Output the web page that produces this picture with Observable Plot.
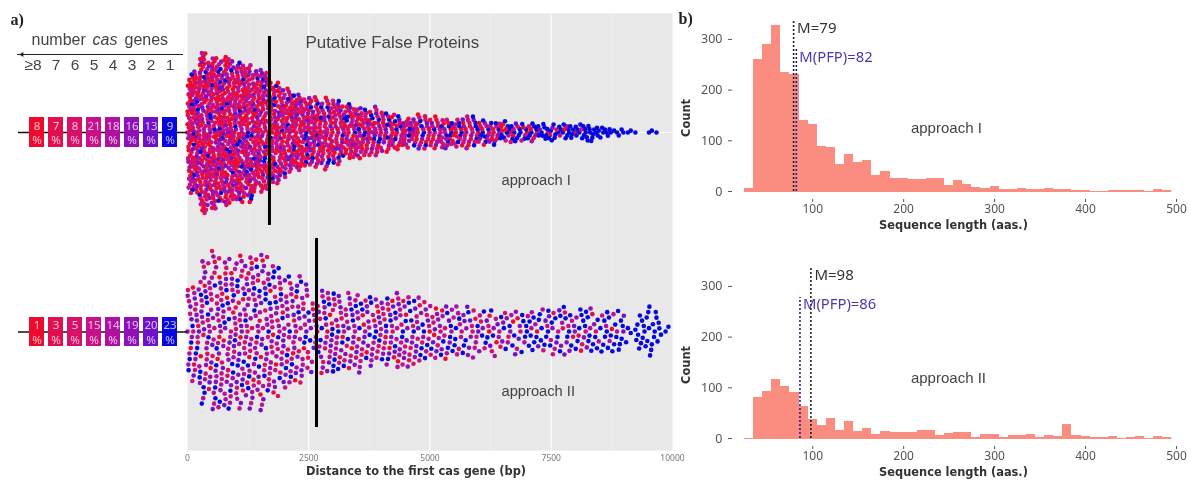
<!DOCTYPE html>
<html><head><meta charset="utf-8">
<script src="https://cdn.jsdelivr.net/npm/d3@7"></script>
<script src="https://cdn.jsdelivr.net/npm/@observablehq/plot@0.6"></script>
<style>
html,body{margin:0;padding:0;background:#fff}
#c{position:relative;width:1191px;height:480px;overflow:hidden;filter:blur(0.45px)}
#c svg{position:absolute;left:0;top:0;background:transparent}
</style></head><body><div id="c"></div>
<script>
// ---------- data ----------
const casLabels = ["≥8","7","6","5","4","3","2","1"];
const casColors = ["#ee0a2c","#e20f4e","#d81068","#c8108a","#b010a0","#9010b8","#7010c8","#0808dc"];
const pctI  = [8,7,8,21,18,16,13,9];
const pctII = [1,3,5,15,14,19,20,23];
const dotMixI  = [22,15,15,18,12,8,6,4];   // share of each colour among the dots, as seen
const dotMixII = [5,6,10,18,16,18,14,13];

const binWidth = 250;                    // bp per counted bin of the swarms
const countsI = [115,135,130,125,118,108,95,80,70,62,56,52,48,44,40,35,30,26,24,23,23,23,23,21,19,18,16,14,14,12,11,12,12,12,8,5,3,0,3,0];
const blueI   = [.03,.03,.03,.03,.03,.03,.03,.03,.05,.05,.05,.07,.07,.08,.08,.1,.1,.12,.15,.15,.18,.2,.2,.2,.25,.3,.35,.45,.55,.65,.75,.85,.95,1,1,1,1,1,1,1];
const countsII = [36,48,52,50,50,50,47,42,37,32,20,30,28,27,25,24,26,27,24,21,19,18,17,16,14,13,13,14,14,14,15,15,15,14,14,14,4,13,14,3];
const blueII   = [.08,.05,.05,.05,.05,.05,.05,.05,.05,.05,.07,.07,.07,.07,.07,.08,.1,.1,.12,.12,.12,.15,.15,.18,.22,.25,.28,.3,.35,.38,.4,.45,.5,.5,.55,.65,.9,.95,1,1];
const pfpLineI = 1690, pfpLineII = 2660;

const lengths = [30,40,50,60,70,80,90,100,110,120,130,140,150,160,170,180,190,200,210,220,230,240,250,260,270,280,290,300,310,320,330,340,350,360,370,380,390,400,410,420,430,440,450,460,470,480,490];
const histI  = [5,260,289,328,235,231,140,132,88,86,53,72,58,61,31,40,25,26,23,23,25,25,12,22,14,7,5,9,3,4,5,3,3,5,3,3,1,2,0,0,2,1,1,1,0,3,1];
const histII = [0,80,92,117,102,90,63,38,25,40,16,33,14,20,8,13,11,12,11,16,15,5,9,11,11,1,7,8,1,5,5,7,1,5,3,28,5,4,2,1,3,0.5,2,3,0.5,3,1];

// ---------- expand the counted bins into points for the library's dodge ----------
const PHI = 0.6180339887, PSI = 0.7548776662;
const frac = v => v - Math.floor(v);
function points(counts, blue, mix) {
  const total = d3.sum(mix), cum = d3.cumsum(mix).map(v => v / total), out = [];
  let n = 0;
  const rows = [];
  counts.forEach((c, b) => { for (let i = 0; i < c; i++) rows.push([b, i, c]); });
  rows.sort((p, q) => p[0] - q[0] || frac(p[1] * PSI) - frac(q[1] * PSI));
  for (const [b, i, c] of rows) {
    n++;
    const u = frac(n * PHI), w = frac(n * PSI);
    let k = cum.findIndex(v => u <= v); if (k < 0) k = 7;
    if (w < blue[b]) k = 7;
    out.push({x: (b + frac(i * PHI + b * 0.37)) * binWidth, fill: casColors[k]});
  }
  return out;
}
const table = (ys) => lengths.map((len, i) => ({len, count: ys[i]}));

// ---------- shared styles ----------
const sans = "Liberation Sans", noto = "Noto Sans", bold = "DejaVu Sans";
const W = 1191, H = 480, X = {domain: [0, 10000]};
const mount = p => document.getElementById("c").appendChild(p);

// ---------- panel a) background ----------
mount(Plot.plot({
  width: W, height: H, marginLeft: 187, marginRight: W - 672, marginTop: 13, marginBottom: H - 450,
  x: X, style: {background: "transparent"},
  marks: [
    Plot.frame({fill: "#e8e8e8", stroke: null}),
    Plot.ruleX([1250,3750,6250,8750], {stroke: "#efefef", strokeWidth: 0.8}),
    Plot.ruleX([2500,5000,7500], {stroke: "#fbfbfb", strokeWidth: 1.2}),
    Plot.axisX({ticks: [0,2500,5000,7500,10000], tickFormat: d => String(d), tickSize: 0, tickPadding: 4, label: null, fontSize: 8.5, color: "#777", fontFamily: noto}),
    Plot.text(["Distance to the first cas gene (bp)"], {frameAnchor: "bottom", dx: -14, dy: 24, fontFamily: bold, fontWeight: "bold", fontSize: 11.4, fill: "#333"}),
    Plot.text(["a)"], {frameAnchor: "top-left", lineAnchor: "middle", dx: -177, dy: 6, fontFamily: "Liberation Serif", fontWeight: "bold", fontSize: 16, fill: "#222", textAnchor: "start"})
  ]
}));

// ---------- swarms ----------
function swarm(top, bottom, counts, blue, mix, pad, rule, y1, y2, labels) {
  mount(Plot.plot({
    width: W, height: H, marginLeft: 187, marginRight: W - 672, marginTop: top, marginBottom: H - bottom,
    x: {...X, axis: null}, y: {domain: [(bottom - top) / 2, -(bottom - top) / 2], axis: null},
    style: {background: "transparent"},
    marks: [
      Plot.ruleY([0], {stroke: "#fbfbfb", strokeWidth: 1}),
      Plot.dot(points(counts, blue, mix), Plot.dodgeY({anchor: "middle", x: "x", r: 2.3, padding: pad, fill: "fill"})),
      Plot.ruleX([rule], {y1, y2, stroke: "#000", strokeWidth: 3}),
      ...labels.map(l => Plot.text([l.text], {x: l.x, y: l.y, text: d => d, textAnchor: "start", fontFamily: sans, fontSize: l.size, fill: "#444"}))
    ]
  }));
}
swarm(13, 251, countsI, blueI, dotMixI, -1.2, pfpLineI, -96, 93,
  [{text: "Putative False Proteins", x: 2433, y: -90, size: 16.9}, {text: "approach I", x: 6474, y: 48, size: 14.7}]);
swarm(212, 450, countsII, blueII, dotMixII, 1, pfpLineII, -93, 96,
  [{text: "approach II", x: 6474, y: 60, size: 14.7}]);

// ---------- cas-gene tag rows ----------
function tags(top, bottom, pct, header) {
  const h = bottom - top;
  mount(Plot.plot({
    width: W, height: H, marginLeft: 25.7, marginRight: W - 180, marginTop: top, marginBottom: H - bottom,
    x: {domain: casLabels, paddingInner: 0.2, paddingOuter: 0, axis: null}, y: {domain: [h / 2, -h / 2], axis: null},
    style: {background: "transparent"},
    marks: [
      Plot.ruleY([0], {stroke: "#111", strokeWidth: 1.3, insetLeft: -7.7, insetRight: -7}),
      Plot.cell(casLabels, {x: d => d, fill: (d, i) => casColors[i]}),
      Plot.text(casLabels, {x: d => d, text: (d, i) => pct[i] + "\n%", fontFamily: noto, fontSize: 11.5, lineHeight: 1.25, fill: "#fff", fillOpacity: 0.75}),
      ...(header ? [
        Plot.ruleY([-78], {stroke: "#222", strokeWidth: 1, insetLeft: -8.7, insetRight: -3}),
        Plot.dot(["≥8"], {x: d => d, y: -78, symbol: "triangle", rotate: -90, r: 1.8, fill: "#222", dx: -15}),
        Plot.text(casLabels.slice(1), {x: d => d, text: d => d, y: -67, fontFamily: sans, fontSize: 15.5, fill: "#444"}),
        Plot.text(casLabels.slice(0, 1), {x: d => d, text: d => d, y: -67, dx: -4, fontFamily: sans, fontSize: 15.5, fill: "#444"}),
        Plot.text(["number"], {frameAnchor: "top-left", lineAnchor: "middle", dx: 5.3, dy: -78, textAnchor: "start", fontFamily: sans, fontSize: 16, fill: "#444"}),
        Plot.text(["cas"], {frameAnchor: "top-left", lineAnchor: "middle", dx: 66.3, dy: -78, textAnchor: "start", fontFamily: sans, fontStyle: "italic", fontSize: 16, fill: "#444"}),
        Plot.text(["genes"], {frameAnchor: "top-left", lineAnchor: "middle", dx: 98.3, dy: -78, textAnchor: "start", fontFamily: sans, fontSize: 16, fill: "#444"})
      ] : [])
    ]
  }));
}
tags(117, 147, pctI, true);
tags(317, 346, pctII, false);

// ---------- panel b) histograms ----------
function hist(zero, ys, m, pfp, mTop, pfpTop, label, mLabelDy, pfpLabelDy, labelDy, extra) {
  const k = 0.507, topPx = zero - 172;
  mount(Plot.plot({
    width: W, height: H, marginLeft: 744, marginRight: W - 1176, marginTop: topPx, marginBottom: H - zero,
    x: {domain: [25, 500]}, y: {domain: [0, 172 / k]},
    style: {background: "transparent"},
    marks: [
      Plot.rectY(table(ys), {x1: d => d.len - 5, x2: d => d.len + 5, y: "count", fill: "#fa8d80", shapeRendering: "crispEdges"}),
      Plot.ruleY([0], {stroke: "#fa8d80", strokeWidth: 1, x1: 25, x2: 495}),
      Plot.axisX({ticks: [100,200,300,400,500], tickSize: 3, tickPadding: 2, label: null, dy: 8, fontSize: 12, color: "#555", fontFamily: noto}),
      Plot.axisY({ticks: [0,100,200,300], tickSize: 4, tickPadding: 6, label: null, dx: -12, fontSize: 12.5, color: "#555", fontFamily: noto}),
      Plot.text(["Count"], {x: 25, y: 145, rotate: -90, dx: -58, fontFamily: bold, fontWeight: "bold", fontSize: 11.4, fill: "#333"}),
      Plot.text(["Sequence length (aas.)"], {frameAnchor: "bottom", dx: -7, dy: 37, fontFamily: bold, fontWeight: "bold", fontSize: 11.4, fill: "#333"}),
      Plot.ruleX([m], {y1: 0, y2: mTop, stroke: "#222", strokeWidth: 1.6, strokeDasharray: "2 2"}),
      Plot.ruleX([pfp], {y1: 0, y2: pfpTop, stroke: "#2a1a9a", strokeWidth: 1.6, strokeDasharray: "2 2"}),
      Plot.text([`M=${m}`], {x: m, y: mTop, dx: 3.5, dy: mLabelDy, textAnchor: "start", fontFamily: noto, fontSize: 15, fill: "#333"}),
      Plot.text([`M(PFP)=${pfp}`], {x: pfp, y: pfpTop, dx: 3, dy: pfpLabelDy, textAnchor: "start", fontFamily: noto, fontSize: 14.8, fill: "#4a3ab0"}),
      Plot.text([label], {x: 208, y: labelDy, textAnchor: "start", fontFamily: sans, fontSize: 15, fill: "#444"}),
      ...extra
    ]
  }));
}
hist(191, histI, 79, 82, 337, 282, "approach I", 8, 9, 124, [
  Plot.text(["b)"], {frameAnchor: "top-left", lineAnchor: "middle", dx: -66, dy: -1, fontFamily: "Liberation Serif", fontWeight: "bold", fontSize: 16, fill: "#222", textAnchor: "start"})
]);
hist(438, histII, 98, 86, 339, 278, "approach II", 9, 7, 118, []);
</script></body></html>
